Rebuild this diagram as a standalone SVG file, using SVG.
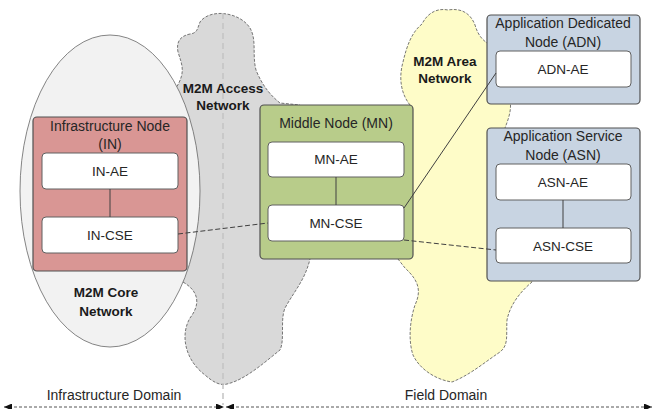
<svg xmlns="http://www.w3.org/2000/svg" width="653" height="409" viewBox="0 0 653 409">
<defs>
<style>
.t{font-family:"Liberation Sans",Arial,sans-serif;font-size:14px;fill:#262626;text-anchor:middle}
.i{font-size:13.5px}
.b{font-weight:bold;font-size:13.5px;fill:#1a1a1a}
.cloud{stroke:#555;stroke-width:0.8;stroke-dasharray:3 1.5}
.box{stroke:#505050;stroke-width:1.2}
.inner{fill:#fff;stroke:#606060;stroke-width:1}
.in{fill:#d99694}
.mn{fill:#b8cc8a}
.asn{fill:#c8d4e2}
.link{stroke:#404040;stroke-width:1;fill:none}
.dash{stroke-dasharray:5 2.5}
</style>
<marker id="ah" viewBox="0 0 8 7" refX="8" refY="3.5" markerWidth="8" markerHeight="7" markerUnits="userSpaceOnUse" orient="auto-start-reverse">
<path d="M0,0 L8,3.5 L0,7 Z" fill="#111"/>
</marker>
</defs>
<rect width="653" height="409" fill="#fff"/>

<g id="access-network">
<path class="cloud" fill="#d9d9d9" d="M183 282 C200 292,200 305,190 318 C180 335,185 360,205 375 C213 382,220 386,227 384 C245 380,265 362,280 350 C285 340,280 320,285 308 C295 290,305 280,310 259 L300 105 L280 103 C270 95,262 85,256 70 C252 55,257 40,250 28 C240 12,210 8,200 22 C197 30,197 33,190 34 C180 36,176 42,178 52 C182 65,186 72,176 88 L150 190 Z"/>
</g>
<g id="area-network">
<path class="cloud" fill="#fefcc8" d="M410 105 C402 95,398 80,403 62 C407 45,412 32,422 24 C428 12,438 8,448 10 C460 8,470 12,475 25 C478 35,482 40,490 45 L510 100 C512 110,508 120,505 128 L532 282 C520 292,510 305,507 320 C506 335,509 345,500 352 C485 362,470 375,452 382 C437 380,420 370,413 355 C408 340,410 320,415 305 C422 290,418 280,405 268 L398 259 Z"/>
</g>
<g id="core-network">
<ellipse cx="110" cy="191" rx="90" ry="156" fill="#f2f2f2" stroke="#666" stroke-width="0.8"/>
</g>
<line x1="223" y1="13" x2="223" y2="405" stroke="#c4c4c4" stroke-width="1.5" stroke-dasharray="6 4"/>
<g id="network-labels">
<text class="t b" x="223" y="93">M2M Access</text>
<text class="t b" x="223" y="110">Network</text>
<text class="t b" x="445" y="66">M2M Area</text>
<text class="t b" x="445" y="83">Network</text>
<text class="t b" x="106" y="297">M2M Core</text>
<text class="t b" x="106" y="316">Network</text>
</g>

<g id="in">
<rect class="box in" x="33" y="117" width="154" height="154" rx="4"/>
<text class="t" x="110" y="131">Infrastructure Node</text>
<text class="t" x="110" y="149">(IN)</text>
</g>
<g id="in-ae">
<rect class="inner" x="42" y="153" width="136" height="36" rx="4"/>
<text class="t i" x="110" y="176">IN-AE</text>
</g>
<g id="in-cse">
<rect class="inner" x="42" y="217" width="136" height="36" rx="4"/>
<text class="t i" x="110" y="240">IN-CSE</text>
</g>

<g id="mn">
<rect class="box mn" x="260" y="105" width="153" height="154" rx="4"/>
<text class="t" x="336" y="128">Middle Node (MN)</text>
</g>
<g id="mn-ae">
<rect class="inner" x="268" y="142" width="136" height="35" rx="4"/>
<text class="t i" x="336" y="164">MN-AE</text>
</g>
<g id="mn-cse">
<rect class="inner" x="268" y="205" width="136" height="36" rx="4"/>
<text class="t i" x="336" y="228">MN-CSE</text>
</g>

<g id="adn">
<rect class="box asn" x="487" y="15" width="153" height="89" rx="4"/>
<text class="t" x="563" y="28">Application Dedicated</text>
<text class="t" x="563" y="47">Node (ADN)</text>
</g>
<g id="adn-ae">
<rect class="inner" x="496" y="51" width="135" height="36" rx="4"/>
<text class="t i" x="563" y="74">ADN-AE</text>
</g>

<g id="asn">
<rect class="box asn" x="487" y="128" width="153" height="153" rx="4"/>
<text class="t" x="563" y="141">Application Service</text>
<text class="t" x="563" y="160">Node (ASN)</text>
</g>
<g id="asn-ae">
<rect class="inner" x="496" y="164" width="135" height="36" rx="4"/>
<text class="t i" x="563" y="187">ASN-AE</text>
</g>
<g id="asn-cse">
<rect class="inner" x="496" y="228" width="135" height="35" rx="4"/>
<text class="t i" x="563" y="251">ASN-CSE</text>
</g>

<g id="connectors">
<line class="link" x1="110" y1="189" x2="110" y2="217"/>
<line class="link" x1="336" y1="177" x2="336" y2="205"/>
<line class="link" x1="563" y1="200" x2="563" y2="228"/>
<line class="link dash" x1="178" y1="234" x2="268" y2="223"/>
<line class="link dash" x1="404" y1="240" x2="496" y2="250"/>
<line class="link" stroke-width="0.8" x1="404" y1="208" x2="496" y2="73"/>
</g>

<g id="domains">
<text class="t" x="114" y="400">Infrastructure Domain</text>
<text class="t" x="446" y="400">Field Domain</text>
<line x1="4" y1="407" x2="224" y2="407" stroke="#555" stroke-width="1" stroke-dasharray="3 2" marker-start="url(#ah)" marker-end="url(#ah)"/>
<line x1="226" y1="407" x2="652" y2="407" stroke="#555" stroke-width="1" stroke-dasharray="3 2" marker-start="url(#ah)" marker-end="url(#ah)"/>
</g>
</svg>
